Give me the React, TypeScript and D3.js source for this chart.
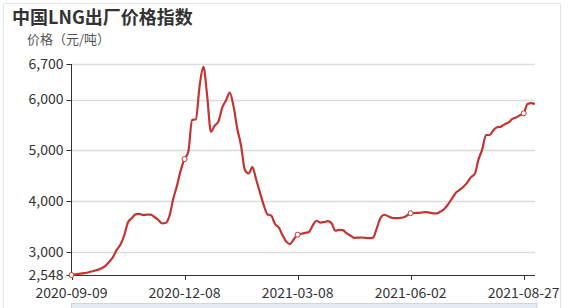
import React from 'react';
import * as d3 from 'd3';

const title = '中国LNG出厂价格指数';
const yAxisName = '价格（元/吨）';
const tickLabels = ['2020-09-09', '2020-12-08', '2021-03-08', '2021-06-02', '2021-08-27'];
const tickIndices = [0, 60, 120, 180, 240];
const lastIndex = 246;
const sampleStep = 2;
const yTicks = [2548, 3000, 4000, 5000, 6000, 6700];
const values = [
  2548, 2559, 2570, 2581, 2593, 2611, 2630, 2649, 2680, 2728,
  2807, 2899, 3042, 3148, 3330, 3585, 3665, 3740, 3749, 3730,
  3735, 3735, 3690, 3635, 3565, 3572, 3710, 4048, 4307, 4611,
  4830, 4975, 5597, 5614, 6270, 6645, 6075, 5368, 5486, 5570,
  5841, 5984, 6138, 5866, 5426, 5090, 4620, 4547, 4669, 4428,
  4175, 3926, 3743, 3716, 3551, 3483, 3333, 3204, 3155, 3252,
  3342, 3360, 3377, 3395, 3520, 3616, 3580, 3588, 3607, 3569,
  3419, 3435, 3430, 3370, 3325, 3280, 3282, 3286, 3277, 3273,
  3284, 3465, 3669, 3734, 3705, 3673, 3666, 3670, 3680, 3716,
  3764, 3768, 3771, 3778, 3786, 3774, 3762, 3762, 3800, 3853,
  3946, 4057, 4168, 4223, 4285, 4366, 4474, 4535, 4818, 5020,
  5303, 5303, 5402, 5455, 5468, 5517, 5552, 5620, 5649, 5690,
  5730, 5914, 5932, 5913,
];

const W = 568;
const H = 308;
const left = 71.5;
const right = 535;
const top = 64;
const bottom = 275;
const font = '"Noto Sans CJK SC", "Noto Sans", sans-serif';
const lineColor = '#c23531';

export default function App() {
  const x = d3.scaleLinear().domain([0, lastIndex]).range([left, right]);
  const y = d3.scaleLinear().domain([2548, 6700]).range([bottom, top]);
  const pts: [number, number][] = values.map((v, i) => [i * sampleStep, v]);
  const line = d3
    .line<[number, number]>()
    .x((d) => x(d[0]))
    .y((d) => y(d[1]))
    .curve(d3.curveMonotoneX);
  const fmt = d3.format(',');
  const markers = pts.filter((d) => tickIndices.includes(d[0]));

  return (
    <svg
      width={W}
      height={H}
      style={{ position: 'absolute', left: 0, top: 0, background: '#fff' }}
      fontFamily={font}
    >
      <line x1={3.5} y1={4} x2={3.5} y2={H} stroke="#e3e3e3" />
      <line x1={3.5} y1={3.5} x2={560.5} y2={3.5} stroke="#e3e3e3" />
      <line x1={560.5} y1={4} x2={560.5} y2={H} stroke="#e3e3e3" />
      <text x={12} y={23.5} fontSize={18} fontWeight="bold" fill="#333">
        {title}
      </text>
      <text x={left - 3} y={44} fontSize={13} fill="#555" textAnchor="middle">
        {yAxisName}
      </text>
      {yTicks.map((t) => (
        <g key={t}>
          {t !== 2548 && (
            <line x1={left} x2={right} y1={Math.round(y(t)) + 0.5} y2={Math.round(y(t)) + 0.5} stroke="#dcdcdc" strokeWidth={1.5} />
          )}
          <line x1={left - 5} x2={left} y1={Math.round(y(t)) + 0.5} y2={Math.round(y(t)) + 0.5} stroke="#333" />
          <text x={left - 8} y={y(t)} dy="0.35em" fontSize={14} fill="#333" textAnchor="end">
            {fmt(t)}
          </text>
        </g>
      ))}
      <line x1={left} x2={left} y1={top} y2={bottom} stroke="#333" />
      <line x1={left} x2={right} y1={bottom + 0.5} y2={bottom + 0.5} stroke="#333" />
      {tickIndices.map((ti, k) => (
        <g key={ti}>
          <line x1={Math.round(x(ti)) + 0.5} x2={Math.round(x(ti)) + 0.5} y1={bottom} y2={bottom + 5} stroke="#333" />
          <text x={x(ti)} y={bottom + 23} fontSize={14} fill="#333" textAnchor="middle">
            {tickLabels[k]}
          </text>
        </g>
      ))}
      <path d={line(pts) || ''} fill="none" stroke={lineColor} strokeWidth={2.2} strokeLinejoin="round" />
      {markers.map((d) => (
        <circle key={d[0]} cx={x(d[0])} cy={y(d[1])} r={2.5} fill="#fff" stroke={lineColor} strokeWidth={1} />
      ))}
      <rect x={left} y={303.5} width={537 - left} height={10} fill="#e6ebf3" stroke="#cdd5e2" />
    </svg>
  );
}
